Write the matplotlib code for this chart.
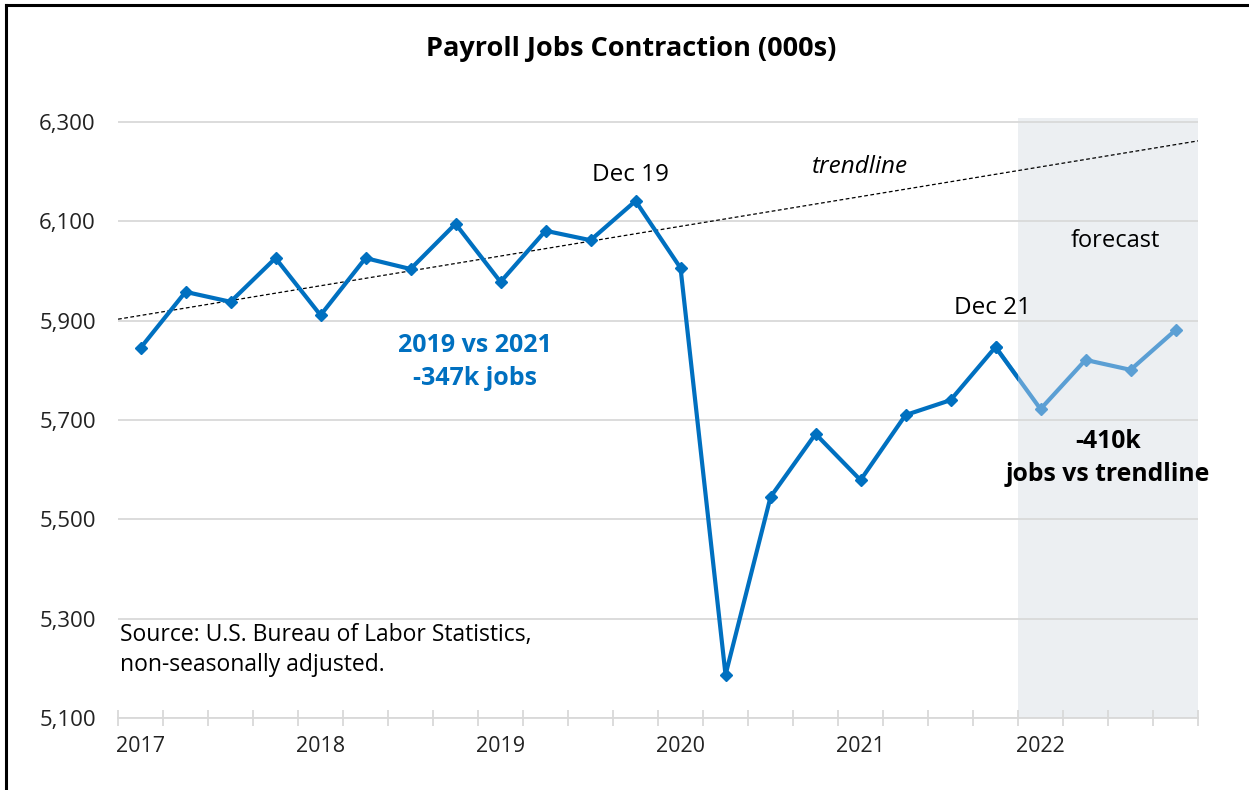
import numpy as np
import matplotlib.pyplot as plt
from matplotlib.patches import Rectangle
from matplotlib.lines import Line2D

plt.rcParams['font.family'] = ['Open Sans', 'DejaVu Sans']

# Quarterly payroll jobs (000s), 2017 Q1 - 2021 Q4 actual, 2022 forecast
actual = [5845, 5958, 5938, 6026, 5911, 6026, 6004, 6095, 5978, 6081, 6062, 6141,
          6006, 5187, 5545, 5672, 5579, 5710, 5740, 5847]
forecast = [5847, 5722, 5821, 5801, 5881]
years = ['2017', '2018', '2019', '2020', '2021', '2022']
trend_start, trend_end = 5903, 6262
yticks = [5100, 5300, 5500, 5700, 5900, 6100, 6300]

dark = '#0070c0'
light = '#5b9fd4'
grey = '#d9d9d9'

n = len(actual) + len(forecast) - 1
x_act = np.arange(len(actual))
x_fc = np.arange(len(actual) - 1, n)
split = len(actual) - 0.5

fig = plt.figure(figsize=(12.49, 7.90), dpi=100)
ax = fig.add_axes([0.0945, 0.0911, 0.8647, 0.7595])

ax.set_xlim(-0.5, n - 0.5)
ax.set_ylim(5100, 6308)

# forecast shading
ax.axvspan(split, n - 0.5, color='#eceff2', zorder=0, lw=0)

# gridlines
for v in yticks:
    ax.axhline(v, color=grey, lw=1.3, zorder=1)

# trendline
ax.plot([-0.5, n - 0.5], [trend_start, trend_end], color='black', ls=(0, (3, 2)),
        lw=0.9, zorder=2)

# forecast line
ax.plot(x_fc, forecast, color=light, lw=3, marker='D', ms=6, zorder=3)
# actual line, plus the start of the segment into the forecast, clipped at the shade
ln, = ax.plot(np.append(x_act, x_fc[1]), actual + [forecast[1]], color=dark, lw=3,
              marker='D', ms=6, zorder=4)
clip = Rectangle((-1, 4000), split + 1, 3000, transform=ax.transData)
ln.set_clip_path(clip)

# axes styling
for s in ['top', 'right', 'left']:
    ax.spines[s].set_visible(False)
ax.spines['bottom'].set_color(grey)
ax.spines['bottom'].set_linewidth(1.3)
ax.set_yticks(yticks)
ax.set_yticklabels([f'{v:,}' for v in yticks], fontsize=16, color='#222222')
ax.tick_params(axis='y', length=0, pad=16)
ax.set_xticks(np.arange(-0.5, n, 1))
ax.set_xticklabels([])
ax.tick_params(axis='x', which='major', direction='inout', length=12, color=grey, width=1.3)
ax.set_xticks(np.arange(0, n, 4), minor=True)
ax.set_xticklabels(years, minor=True, fontsize=15.5, color='#222222')
ax.tick_params(axis='x', which='minor', length=0, pad=13)

# annotations
ax.text(10.88, 6193, 'Dec 19', ha='center', va='center', fontsize=17.5)
ax.text(18.94, 5926, 'Dec 21', ha='center', va='center', fontsize=17.5)
ax.text(15.99, 6209, 'trendline', ha='center', va='center', fontsize=17.5, style='italic')
ax.text(21.66, 6060, 'forecast', ha='center', va='center', fontsize=17)
ax.text(7.43, 5817, '2019 vs 2021\n-347k jobs', ha='center', va='center', fontsize=18,
        fontweight='bold', color=dark, linespacing=1.4)
ax.text(21.5, 5624, '-410k\njobs vs trendline', ha='center', va='center', fontsize=17.8,
        fontweight='bold', color='black', linespacing=1.4)
ax.text(-0.46, 5237, 'Source: U.S. Bureau of Labor Statistics,\nnon-seasonally adjusted.',
        ha='left', va='center', fontsize=16.5, linespacing=1.35)

fig.text(0.505, 0.938, 'Payroll Jobs Contraction (000s)', ha='center', va='center',
         fontsize=19.5, fontweight='bold')

# frame on left and top edges
fig.add_artist(Line2D([6 / 1249, 6 / 1249], [0, 1 - 5 / 790], color='black', lw=2.2,
                      transform=fig.transFigure))
fig.add_artist(Line2D([6 / 1249, 1], [1 - 5 / 790, 1 - 5 / 790], color='black', lw=2.2,
                      transform=fig.transFigure))

fig.savefig('out.png', dpi=100)
